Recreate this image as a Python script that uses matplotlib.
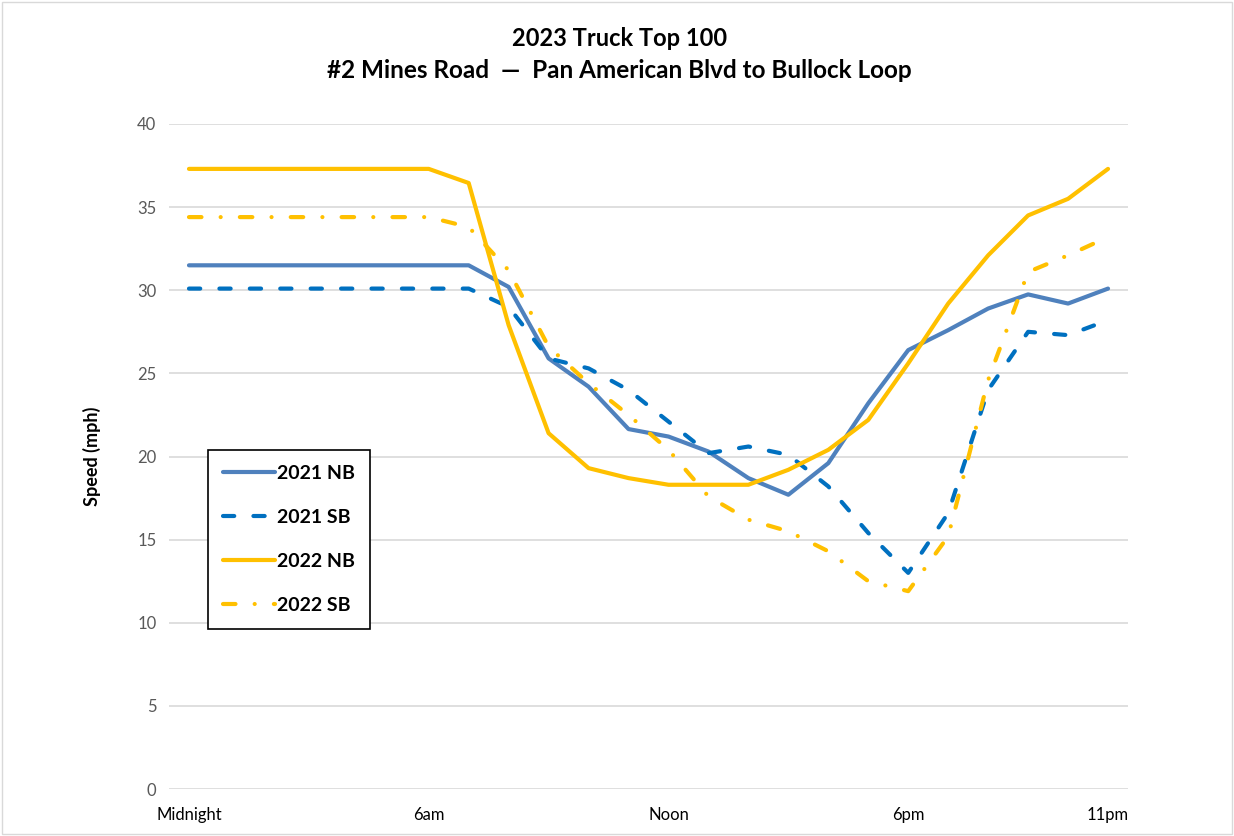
import matplotlib
matplotlib.use("Agg")
import matplotlib.pyplot as plt
from matplotlib.patches import Rectangle

hours = list(range(24))
tick_positions = [0, 6, 12, 18, 23]
tick_labels = ["Midnight", "6am", "Noon", "6pm", "11pm"]

nb_2021 = [31.5, 31.5, 31.5, 31.5, 31.5, 31.5, 31.5, 31.5, 30.2, 25.9, 24.2, 21.65,
           21.2, 20.3, 18.7, 17.7, 19.6, 23.2, 26.4, 27.6, 28.9, 29.75, 29.2, 30.1]
sb_2021 = [30.1, 30.1, 30.1, 30.1, 30.1, 30.1, 30.1, 30.1, 29.0, 25.9, 25.3, 24.0,
           22.1, 20.2, 20.6, 20.1, 18.2, 15.4, 13.0, 16.6, 24.0, 27.5, 27.3, 28.2]
nb_2022 = [37.3, 37.3, 37.3, 37.3, 37.3, 37.3, 37.3, 36.45, 27.9, 21.4, 19.3, 18.7,
           18.3, 18.3, 18.3, 19.2, 20.4, 22.2, 25.6, 29.2, 32.1, 34.5, 35.5, 37.3]
sb_2022 = [34.4, 34.4, 34.4, 34.4, 34.4, 34.4, 34.4, 33.8, 31.2, 26.6, 24.4, 22.5,
           20.4, 17.6, 16.2, 15.5, 14.3, 12.5, 11.9, 15.2, 24.6, 31.1, 32.1, 33.2]

FONT = "Lato"
plt.rcParams["font.family"] = [FONT, "DejaVu Sans"]

fig = plt.figure(figsize=(12.34, 8.36), dpi=100)
fig.patches.append(Rectangle((0.002, 0.002), 0.996, 0.996, transform=fig.transFigure,
                             fill=False, edgecolor="#D9D9D9", linewidth=1))
ax = fig.add_axes([169 / 1234, 1 - 789 / 836, (1128 - 169) / 1234, (789 - 124) / 836])

lw = 3.0
ax.plot(hours, nb_2021, color="#4F81BD", lw=lw, solid_capstyle="round",
        solid_joinstyle="round", label="2021 NB", zorder=3)
ax.plot(hours, sb_2021, color="#0070C0", lw=lw, dashes=(2.7, 4.6),
        dash_capstyle="round", dash_joinstyle="round", label="2021 SB", zorder=3)
ax.plot(hours, nb_2022, color="#FFC000", lw=lw, solid_capstyle="round",
        solid_joinstyle="round", label="2022 NB", zorder=3)
ax.plot(hours, sb_2022, color="#FFC000", lw=lw, dashes=(3.0, 4.6, 0.01, 4.6),
        dash_capstyle="round", dash_joinstyle="round", label="2022 SB", zorder=3)

ax.set_xlim(-0.5, 23.5)
ax.set_ylim(0, 40)
ax.set_yticks(range(0, 41, 5))
ax.set_xticks(tick_positions)
ax.set_xticklabels(tick_labels)
ax.grid(axis="y", color="#D9D9D9", lw=1.2, zorder=0)
ax.set_axisbelow(True)
for s in ax.spines.values():
    s.set_visible(False)
ax.tick_params(axis="both", length=0, labelsize=12, labelcolor="#595959")
ax.tick_params(axis="y", pad=9)
ax.tick_params(axis="x", pad=13)
for lab in ax.get_xticklabels():
    lab.set_color("#000000")

ax.set_ylabel("Speed (mph)", fontsize=13, fontweight="bold", labelpad=26)

fig.text(0.502, 1 - 38 / 836, "2023 Truck Top 100", ha="center", va="center",
         fontsize=17, fontweight="bold")
fig.text(0.502, 1 - 70 / 836, "#2 Mines Road  \u2014  Pan American Blvd to Bullock Loop",
         ha="center", va="center", fontsize=17.5, fontweight="bold")

leg = ax.legend(loc="upper left", bbox_to_anchor=((208 - 169) / 959, (789 - 450) / 665),
                frameon=True, fancybox=False, edgecolor="black", framealpha=1,
                prop={"family": FONT, "weight": "bold", "size": 14},
                handlelength=2.7, labelspacing=1.4, borderpad=0.75, handletextpad=0.1,
                borderaxespad=0)
leg.get_frame().set_linewidth(1.2)

fig.savefig("out.png", dpi=100)
